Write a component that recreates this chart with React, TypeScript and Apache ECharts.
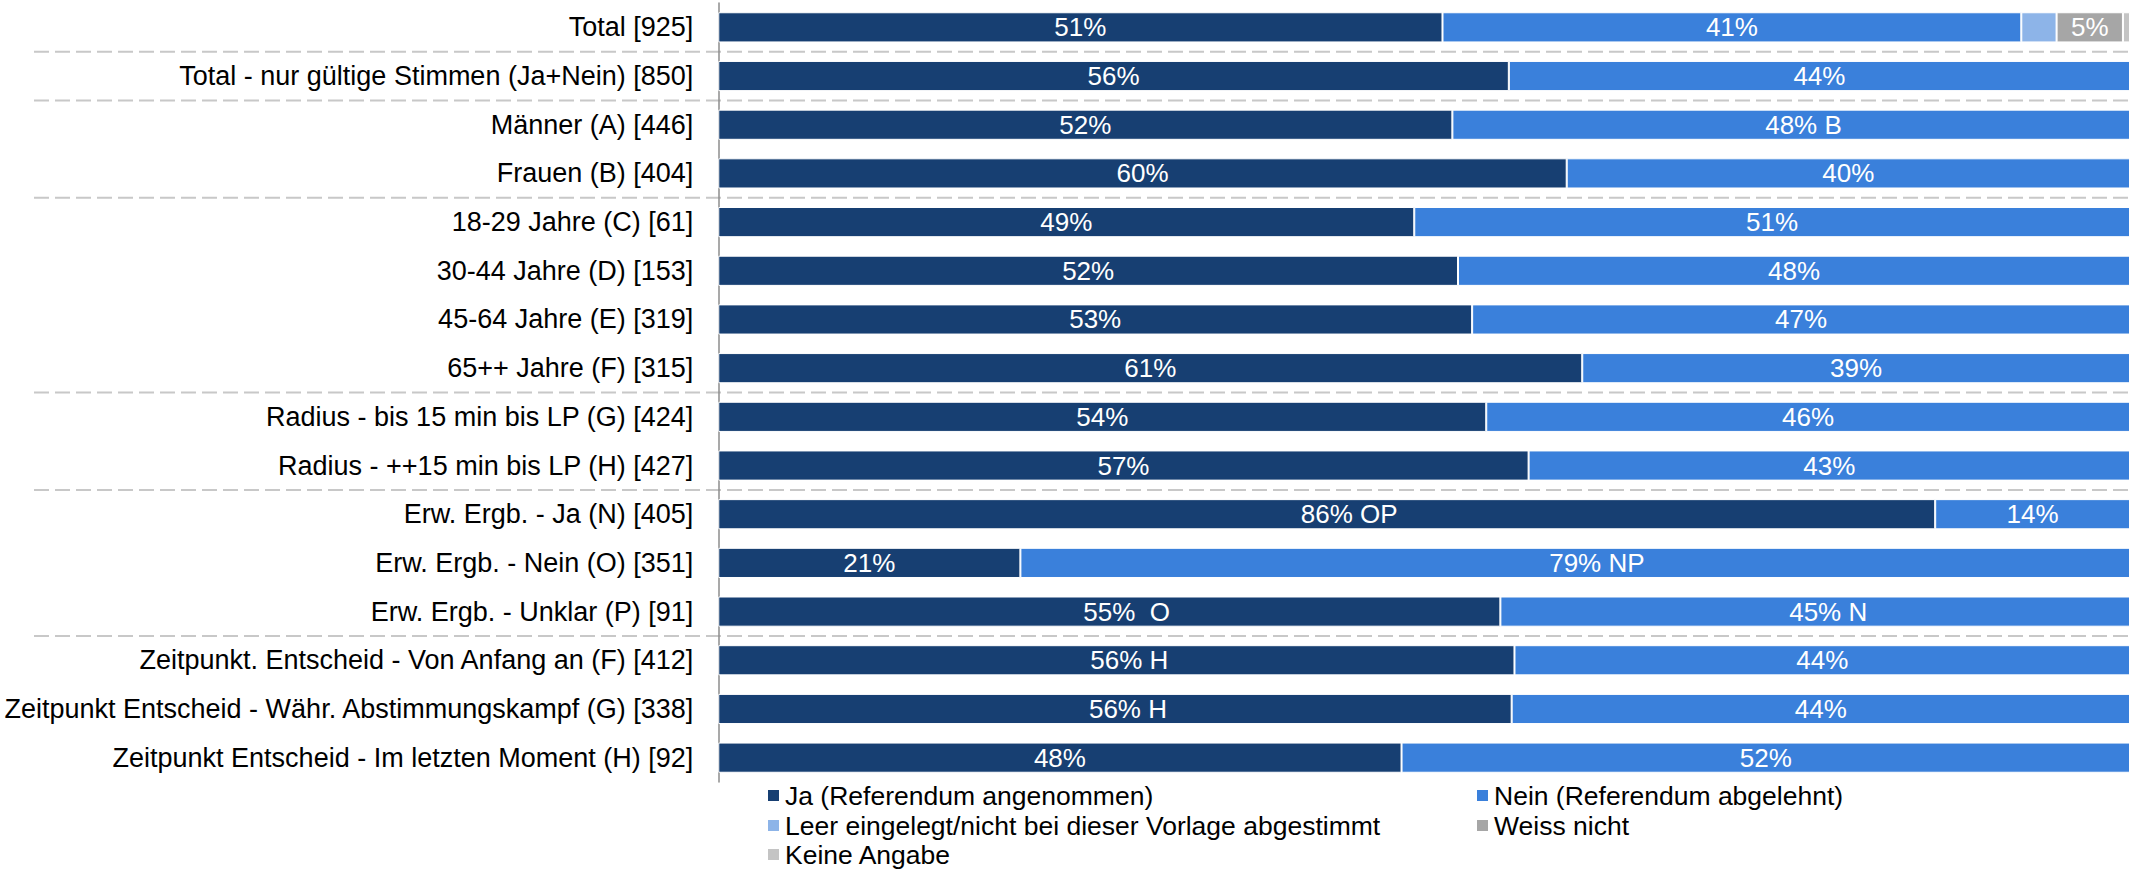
import React, { useEffect, useRef } from "react";
import * as echarts from "echarts";

const categories = [
  "Total [925]",
  "Total - nur gültige Stimmen (Ja+Nein) [850]",
  "Männer (A) [446]",
  "Frauen (B) [404]",
  "18-29 Jahre (C) [61]",
  "30-44 Jahre (D) [153]",
  "45-64 Jahre (E) [319]",
  "65++ Jahre (F) [315]",
  "Radius - bis 15 min bis LP (G) [424]",
  "Radius - ++15 min bis LP (H) [427]",
  "Erw. Ergb. - Ja (N) [405]",
  "Erw. Ergb. - Nein (O) [351]",
  "Erw. Ergb. - Unklar (P) [91]",
  "Zeitpunkt. Entscheid - Von Anfang an (F) [412]",
  "Zeitpunkt Entscheid - Währ. Abstimmungskampf (G) [338]",
  "Zeitpunkt Entscheid - Im letzten Moment (H) [92]",
];

const seriesNames = [
  "Ja (Referendum angenommen)",
  "Nein (Referendum abgelehnt)",
  "Leer eingelegt/nicht bei dieser Vorlage abgestimmt",
  "Weiss nicht",
  "Keine Angabe",
];

const jaValues = [51.3, 56.0, 52.0, 60.1, 49.3, 52.4, 53.4, 61.2, 54.4, 57.4, 86.2, 21.4, 55.4, 56.4, 56.2, 48.4];
const neinValues = [41.0, 44.0, 48.0, 39.9, 50.7, 47.6, 46.6, 38.8, 45.6, 42.6, 13.8, 78.6, 44.6, 43.6, 43.8, 51.6];
const leerValues = [2.5, 0, 0, 0, 0, 0, 0, 0, 0, 0, 0, 0, 0, 0, 0, 0];
const weissValues = [4.7, 0, 0, 0, 0, 0, 0, 0, 0, 0, 0, 0, 0, 0, 0, 0];
const keineValues = [0.5, 0, 0, 0, 0, 0, 0, 0, 0, 0, 0, 0, 0, 0, 0, 0];

// significance letters appended to the percentage labels
const jaSuffix = ["", "", "", "", "", "", "", "", "", "", " OP", "", "  O", " H", " H", ""];
const neinSuffix = ["", "", " B", "", "", "", "", "", "", "", "", " NP", " N", "", "", ""];
const noSuffix = categories.map(() => "");

// rows after which a dashed separator is drawn
const separatorsAfter = [0, 1, 3, 7, 9, 12];

// legend grid: [series index, column, row]
const legendCells = [
  [0, 0, 0],
  [1, 1, 0],
  [2, 0, 1],
  [3, 1, 1],
  [4, 0, 2],
];
const legendColLeft = [766, 1475];
const legendRowTop = [782, 812, 841];

const colors = ["#173F72", "#3A80DB", "#8DB4E8", "#A6A6A6", "#C4C4C4"];
const labelMin = 4;

const FONT = "'Liberation Sans', Arial, Helvetica, sans-serif";
const FS = 26;
const FS_CAT = 27;
const FS_LEG = 26.5;

export default function App() {
  const ref = useRef<HTMLDivElement>(null);

  useEffect(() => {
    if (!ref.current) return;
    const chart = echarts.init(ref.current, null, { renderer: "svg" });

    const canvas = document.createElement("canvas");
    const ctx = canvas.getContext("2d")!;
    ctx.font = `${FS}px 'Liberation Sans', Arial, sans-serif`;
    const measure = (s: string) => (s ? ctx.measureText(s).width : 0);

    const allValues = [jaValues, neinValues, leerValues, weissValues, keineValues];
    const allSuffix = [jaSuffix, neinSuffix, noSuffix, noSuffix, noSuffix];

    const series = seriesNames.map((name, si) => ({
      name,
      type: "bar",
      stack: "total",
      barWidth: "62%",
      itemStyle: { color: colors[si], borderColor: "#ffffff", borderWidth: 1 },
      label: {
        show: true,
        position: "inside",
        color: "#ffffff",
        fontSize: FS,
        fontFamily: FONT,
      },
      emphasis: { disabled: true },
      data: allValues[si].map((v, i) => {
        const suf = allSuffix[si][i];
        const show = v >= labelMin;
        return {
          value: v,
          label: {
            show,
            formatter: show ? `${Math.round(v)}%${suf}` : "",
            offset: [measure(suf) / 2, 0],
          },
        };
      }),
    }));

    const legend = legendCells.map(([si, col, row]) => ({
      data: [seriesNames[si]],
      orient: "horizontal",
      left: legendColLeft[col],
      top: legendRowTop[row],
      icon: "rect",
      itemWidth: 13,
      itemHeight: 13,
      padding: 0,
      selectedMode: false,
      textStyle: { color: "#000000", fontSize: FS_LEG, fontFamily: FONT, lineHeight: 26 },
    }));

    chart.setOption({
      animation: false,
      textStyle: { fontFamily: FONT },
      grid: { left: 716, right: 0, top: 3, bottom: 89, containLabel: false },
      xAxis: {
        type: "value",
        min: 0,
        max: 100,
        show: false,
      },
      yAxis: {
        type: "category",
        data: categories,
        inverse: true,
        axisTick: { show: false },
        axisLine: { show: true, lineStyle: { color: "#8C8C8C", width: 1.5 } },
        axisLabel: { color: "#000000", fontSize: FS_CAT, fontFamily: FONT, margin: 25 },
        splitLine: { show: false },
      },
      legend,
      series,
    });

    const ys = categories.map((c, i) => chart.convertToPixel({ yAxisIndex: 0 }, i) as number);
    const width = ref.current.clientWidth;
    const graphic = separatorsAfter.map((i) => {
      const y = (ys[i] + ys[i + 1]) / 2;
      return {
        type: "line",
        z: -1,
        silent: true,
        shape: { x1: 34, y1: y, x2: width, y2: y },
        style: { stroke: "#C8C8C8", lineWidth: 2, lineDash: [15, 6] },
      };
    });
    chart.setOption({ graphic });

    return () => chart.dispose();
  }, []);

  return (
    <div
      ref={ref}
      style={{ position: "absolute", left: 0, top: 0, width: 2130, height: 871, background: "#ffffff" }}
    />
  );
}
